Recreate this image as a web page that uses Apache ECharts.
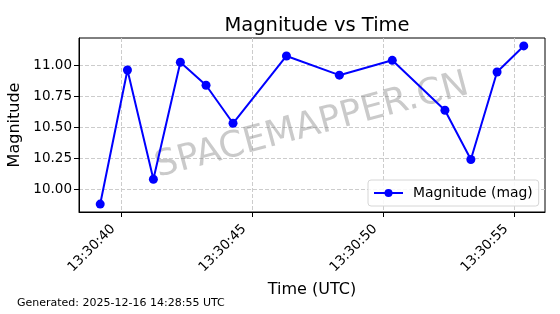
<!DOCTYPE html>
<html><head><meta charset="utf-8">
<script src="https://cdn.jsdelivr.net/npm/echarts@6/dist/echarts.min.js"></script>
<style>html,body{margin:0;padding:0;background:#fff}#c{width:560px;height:314px}</style>
</head><body><div id="c"></div>
<script>
const times = ["13:30:39.21","13:30:40.25","13:30:41.24","13:30:42.27","13:30:43.25","13:30:44.28","13:30:46.32","13:30:48.34","13:30:50.36","13:30:52.37","13:30:53.36","13:30:54.36","13:30:55.38"];
const magnitudes = [9.88,10.962,10.08,11.024,10.839,10.532,11.075,10.92,11.04,10.637,10.24,10.946,11.156];
const xTickLabels = ["13:30:40","13:30:45","13:30:50","13:30:55"];
const yTicks = [10.00,10.25,10.50,10.75,11.00];
const titleText = "Magnitude vs Time";
const seriesName = "Magnitude (mag)";
const footer = "Generated: 2025-12-16 14:28:55 UTC";
const watermark = "SPACEMAPPER.CN";

function toSec(s){const p=s.split(':');return (+p[0])*3600+(+p[1])*60+(+p[2]);}
function fmt(v){v=Math.round(v);const h=Math.floor(v/3600),m=Math.floor((v%3600)/60),s=v%60;const z=n=>String(n).padStart(2,'0');return z(h)+':'+z(m)+':'+z(s);}
const data = times.map((t,i)=>[toSec(t),magnitudes[i]]);
const xTicks = xTickLabels.map(toSec);
const F = "DejaVu Sans";
const chart = echarts.init(document.getElementById('c'),null,{renderer:'canvas'});
chart.setOption({
  animation:false,
  backgroundColor:'#fff',
  title:{text:titleText,left:312,top:11,textAlign:'center',textStyle:{fontFamily:F,fontSize:19.5,fontWeight:'normal',color:'#000'}},
  grid:{left:79,right:15,top:38,bottom:102,outerBoundsMode:'none',containLabel:false,show:true,borderColor:'#000',borderWidth:1,backgroundColor:'transparent'},
  legend:{data:[{name:seriesName}],left:368,top:180,orient:'horizontal',itemWidth:29,itemHeight:10,itemGap:8,
    padding:[6,6,6,5],backgroundColor:'rgba(255,255,255,0.85)',borderColor:'#d6d6d6',borderWidth:1,borderRadius:3,
    textStyle:{fontFamily:F,fontSize:13.9,color:'#000',padding:[0,0,0,5]}},
  xAxis:{type:'value',min:48638.40,max:48656.19,
    name:'Time (UTC)',nameLocation:'middle',nameGap:69,nameTextStyle:{fontFamily:F,fontSize:16,color:'#000'},
    axisLine:{show:true,lineStyle:{color:'#000',width:1}},
    axisTick:{show:true,length:5,lineStyle:{color:'#000'},customValues:xTicks},
    axisLabel:{rotate:45,margin:17,align:'right',verticalAlign:'bottom',padding:[0,4,0,0],fontFamily:F,fontSize:13.5,color:'#000',customValues:xTicks,formatter:v=>fmt(v)},
    splitLine:{show:true,lineStyle:{color:'#cccccc',type:[4,2],width:1}}},
  yAxis:{type:'value',min:9.816,max:11.22,
    name:'Magnitude',nameLocation:'middle',nameGap:56,nameRotate:90,nameTextStyle:{fontFamily:F,fontSize:16,color:'#000'},
    axisLine:{show:true,lineStyle:{color:'#000',width:1}},
    axisTick:{show:true,length:5,lineStyle:{color:'#000'},customValues:yTicks},
    axisLabel:{margin:7,fontFamily:F,fontSize:13.5,color:'#000',customValues:yTicks,formatter:v=>v.toFixed(2)},
    splitLine:{show:true,lineStyle:{color:'#cccccc',type:[4,2],width:1}}},
  series:[{name:seriesName,type:'line',data:data,color:'#0000ff',symbol:'circle',symbolSize:9,
    lineStyle:{width:2,color:'#0000ff'},itemStyle:{color:'#0000ff'},z:3}],
  graphic:[
    {type:'text',left:17,top:298,style:{text:footer,font:'11px "DejaVu Sans"',fill:'#000'}},
    {type:'text',x:312,y:126,rotation:15*Math.PI/180,z:1,style:{text:watermark,font:'36px "DejaVu Sans"',fill:'rgba(128,128,128,0.42)',align:'center',verticalAlign:'middle'}}
  ]
});
</script></body></html>
